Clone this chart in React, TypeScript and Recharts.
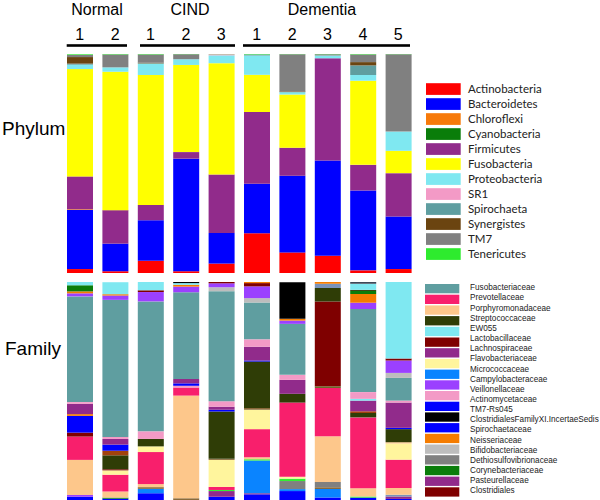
import React from 'react';
import { BarChart, Bar, XAxis, YAxis, Cell } from 'recharts';

// ---------- samples ----------
const SAMPLE_IDS = ['N1', 'N2', 'C1', 'C2', 'C3', 'D1', 'D2', 'D3', 'D4', 'D5'];
const SAMPLE_LABELS = ['1', '2', '1', '2', '3', '1', '2', '3', '4', '5'];
const GROUP_NAMES = ['Normal', 'CIND', 'Dementia'];

// ---------- phylum (% per sample, stacked bottom -> top) ----------
const PHYLA = ['Actinobacteria', 'Bacteroidetes', 'Chloroflexi', 'Cyanobacteria', 'Firmicutes', 'Fusobacteria', 'Proteobacteria', 'SR1', 'Spirochaeta', 'Synergistes', 'TM7', 'Tenericutes'];
const actinobacteria = [1.8, 0.8, 5.6, 0.8, 4.3, 18.2, 9.4, 7.9, 1.2, 1.8];
const bacteroidetes = [27, 12.6, 18.5, 51.4, 14, 22.6, 35, 43.5, 36.5, 24];
const chloroflexi = [0.3, 0, 0, 0, 0, 0, 0, 0, 0, 0];
const cyanobacteria = [0, 0, 0, 0, 0, 0, 0, 0, 0, 0];
const firmicutes = [15, 15.3, 7, 3, 26.7, 32.7, 12.8, 46.7, 11.7, 19.8];
const fusobacteria = [49, 63.2, 59.3, 39.8, 50.8, 17, 24.3, 0, 38.4, 10.2];
const proteobacteria = [2, 2, 5.3, 2.6, 3.6, 8.8, 1.1, 1.2, 2.6, 8.8];
const sr1 = [0, 0, 0, 0, 0.5, 0, 0, 0, 0, 0];
const spirochaeta = [0.5, 0, 0, 0, 0, 0.5, 0, 0, 4.4, 0];
const synergistes = [3, 0, 0.3, 0, 0, 0, 0.3, 0, 1.5, 0];
const tm7 = [1, 5.9, 3.8, 2.3, 0, 0, 17, 0.6, 3.5, 35.3];
const tenericutes = [0.3, 0.2, 0.2, 0.1, 0.1, 0.2, 0.1, 0.1, 0.2, 0.1];
const PHYLUM_VALUES = [actinobacteria, bacteroidetes, chloroflexi, cyanobacteria, firmicutes, fusobacteria, proteobacteria, sr1, spirochaeta, synergistes, tm7, tenericutes];
const PHYLUM_COLORS = ['#FF0000', '#0000FF', '#F77A0A', '#0A7D0A', '#912B8B', '#FFFF00', '#7FE8F1', '#F39AC6', '#5F9EA0', '#6B4410', '#808080', '#2EEB2E'];

// ---------- family (segments per sample, bottom -> top, %) ----------
const FAMILIES = ['Fusobacteriaceae', 'Prevotellaceae', 'Porphyromonadaceae', 'Streptococcaceae', 'EW055', 'Lactobacillaceae', 'Lachnospiraceae', 'Flavobacteriaceae', 'Micrococcaceae', 'Campylobacteraceae', 'Veillonellaceae', 'Actinomycetaceae', 'TM7-Rs045', 'ClostridialesFamilyXI.IncertaeSedis', 'Spirochaetaceae', 'Neisseriaceae', 'Bifidobacteriaceae', 'Dethiosulfovibrionaceae', 'Corynebacteriaceae', 'Pasteurellaceae', 'Clostridiales'];
const FAMILY_COLORS: Record<string, string> = {
  Fusobacteriaceae: '#5F9EA0',
  Prevotellaceae: '#F81F6C',
  Porphyromonadaceae: '#FDC78B',
  Streptococcaceae: '#2F3D06',
  EW055: '#7FE8F1',
  Lactobacillaceae: '#7F0000',
  Lachnospiraceae: '#912B8B',
  Flavobacteriaceae: '#FFF59D',
  Micrococcaceae: '#FFF59D',
  Campylobacteraceae: '#0A84FF',
  Veillonellaceae: '#9B40FF',
  Actinomycetaceae: '#F39AC6',
  'TM7-Rs045': '#0000FF',
  'ClostridialesFamilyXI.IncertaeSedis': '#000000',
  Spirochaetaceae: '#0000FF',
  Neisseriaceae: '#F57C00',
  Bifidobacteriaceae: '#BDBDBD',
  Dethiosulfovibrionaceae: '#808080',
  Corynebacteriaceae: '#0A7D0A',
  Pasteurellaceae: '#912B8B',
  Clostridiales: '#7F0000',
  OtherRust: '#A3420C',
  OtherTan: '#8A6A3A',
  OtherLime: '#33EE33',
  OtherSteel: '#7A93BA',
  OtherSlate: '#3E4858',
  OtherOlive: '#6B6B2A',
};
// legend swatches as drawn (one fewer swatch than labels in the source figure)
const FAMILY_SWATCH_NAMES = FAMILIES.filter((f) => f !== 'Micrococcaceae');

type Seg = [string, number];
const N1_FAM: Seg[] = [['TM7-Rs045', 1.5], ['Veillonellaceae', 0.8], ['Porphyromonadaceae', 16.1], ['Prevotellaceae', 10.7], ['Clostridiales', 1.8], ['Spirochaetaceae', 7.7], ['Neisseriaceae', 0.8], ['Lachnospiraceae', 4.7], ['Actinomycetaceae', 0.8], ['Fusobacteriaceae', 48.5], ['Veillonellaceae', 1.4], ['Neisseriaceae', 0.9], ['Corynebacteriaceae', 2.8], ['EW055', 1.5]];
const N2_FAM: Seg[] = [['TM7-Rs045', 0.6], ['Corynebacteriaceae', 0.5], ['Porphyromonadaceae', 2.8], ['Prevotellaceae', 7.7], ['Flavobacteriaceae', 2.0], ['Clostridiales', 0.5], ['Streptococcaceae', 6.4], ['OtherRust', 2.1], ['Spirochaetaceae', 2.8], ['Lachnospiraceae', 2.6], ['Actinomycetaceae', 0.9], ['Fusobacteriaceae', 62.9], ['Veillonellaceae', 2.0], ['Neisseriaceae', 0.6], ['EW055', 5.5]];
const C1_FAM: Seg[] = [['TM7-Rs045', 3.1], ['Campylobacteraceae', 2.0], ['OtherTan', 0.8], ['Porphyromonadaceae', 1.4], ['Prevotellaceae', 14.7], ['Flavobacteriaceae', 2.6], ['Streptococcaceae', 3.4], ['Actinomycetaceae', 3.5], ['Fusobacteriaceae', 59.6], ['Veillonellaceae', 4.3], ['Clostridiales', 0.8], ['EW055', 3.8]];
const C2_FAM: Seg[] = [['OtherTan', 0.8], ['Porphyromonadaceae', 47.1], ['Prevotellaceae', 3.7], ['Actinomycetaceae', 0.8], ['Spirochaetaceae', 1.1], ['Lachnospiraceae', 2.0], ['Fusobacteriaceae', 39.8], ['Veillonellaceae', 2.6], ['Neisseriaceae', 0.8], ['EW055', 0.8], ['ClostridialesFamilyXI.IncertaeSedis', 0.5]];
const C3_FAM: Seg[] = [['TM7-Rs045', 1.5], ['Pasteurellaceae', 2.6], ['OtherLime', 0.5], ['Prevotellaceae', 1.4], ['Flavobacteriaceae', 12.4], ['OtherTan', 0.5], ['Streptococcaceae', 21.7], ['Spirochaetaceae', 0.8], ['Lachnospiraceae', 1.4], ['Actinomycetaceae', 2.5], ['Fusobacteriaceae', 50.5], ['Bifidobacteriaceae', 1.8], ['Veillonellaceae', 1.8], ['Clostridiales', 0.6]];
const D1_FAM: Seg[] = [['TM7-Rs045', 2.6], ['Pasteurellaceae', 0.5], ['Campylobacteraceae', 15.0], ['OtherLime', 0.6], ['Porphyromonadaceae', 0.9], ['Prevotellaceae', 12.9], ['Flavobacteriaceae', 8.9], ['OtherTan', 0.8], ['Streptococcaceae', 21.3], ['Spirochaetaceae', 0.5], ['Lachnospiraceae', 6.3], ['Actinomycetaceae', 3.4], ['Fusobacteriaceae', 16.9], ['Bifidobacteriaceae', 2.0], ['Veillonellaceae', 5.4], ['Clostridiales', 1.5], ['Neisseriaceae', 0.5]];
const D2_FAM: Seg[] = [['TM7-Rs045', 4.1], ['Campylobacteraceae', 0.9], ['Dethiosulfovibrionaceae', 3.7], ['OtherLime', 1.1], ['Flavobacteriaceae', 0.9], ['Prevotellaceae', 34.0], ['Streptococcaceae', 4.0], ['Lachnospiraceae', 6.4], ['Actinomycetaceae', 2.3], ['Fusobacteriaceae', 23.4], ['Veillonellaceae', 1.5], ['Neisseriaceae', 0.8], ['ClostridialesFamilyXI.IncertaeSedis', 16.8]];
const D3_FAM: Seg[] = [['TM7-Rs045', 1.1], ['Campylobacteraceae', 4.0], ['OtherTan', 0.8], ['Dethiosulfovibrionaceae', 2.3], ['Porphyromonadaceae', 21.0], ['Prevotellaceae', 22.2], ['OtherOlive', 0.8], ['Lactobacillaceae', 38.9], ['Streptococcaceae', 6.1], ['OtherSteel', 2.0], ['Neisseriaceae', 0.8]];
const D4_FAM: Seg[] = [['TM7-Rs045', 1.1], ['OtherLime', 0.5], ['Porphyromonadaceae', 3.8], ['Prevotellaceae', 32.5], ['Streptococcaceae', 2.0], ['OtherRust', 0.8], ['Lachnospiraceae', 4.9], ['EW055', 0.8], ['Actinomycetaceae', 3.1], ['Fusobacteriaceae', 38.1], ['Veillonellaceae', 2.9], ['Neisseriaceae', 4.0], ['Corynebacteriaceae', 1.4], ['Streptococcaceae', 0.5], ['EW055', 2.8], ['OtherSlate', 0.8]];
const D5_FAM: Seg[] = [['TM7-Rs045', 0.5], ['Pasteurellaceae', 1.1], ['OtherSteel', 0.8], ['Porphyromonadaceae', 3.1], ['Prevotellaceae', 13.0], ['Flavobacteriaceae', 7.4], ['Porphyromonadaceae', 0.6], ['Streptococcaceae', 6.0], ['Spirochaetaceae', 0.6], ['Lachnospiraceae', 11.6], ['Actinomycetaceae', 0.9], ['Fusobacteriaceae', 10.4], ['Bifidobacteriaceae', 2.3], ['Veillonellaceae', 5.7], ['Clostridiales', 0.9], ['EW055', 35.2]];
const FAMILY_SEGMENTS = [N1_FAM, N2_FAM, C1_FAM, C2_FAM, C3_FAM, D1_FAM, D2_FAM, D3_FAM, D4_FAM, D5_FAM];

// ---------- derived tables ----------
const phylumRows = SAMPLE_IDS.map((id, i) => {
  const row: Record<string, any> = { id };
  PHYLA.forEach((p, k) => { row[p] = PHYLUM_VALUES[k][i]; });
  return row;
});
const MAX_SEGS = Math.max(...FAMILY_SEGMENTS.map((s) => s.length));
const familyRows = SAMPLE_IDS.map((id, i) => {
  const row: Record<string, any> = { id };
  FAMILY_SEGMENTS[i].forEach(([, v], k) => { row['s' + k] = v; });
  return row;
});

const SANS = '"Liberation Sans", Arial, Helvetica, sans-serif';

function SampleTick(props: any) {
  const { x, y, payload } = props;
  const idx = SAMPLE_IDS.indexOf(payload.value);
  return (
    <text x={x} y={y - 14} textAnchor="middle" fontSize={16} fontFamily={SANS} fill="#000">
      {SAMPLE_LABELS[idx]}
    </text>
  );
}

export default function App() {
  return (
    <div style={{ position: 'absolute', left: 0, top: 0, width: 600, height: 500, background: '#fff', overflow: 'hidden' }}>
      <svg width={600} height={500} style={{ position: 'absolute', left: 0, top: 0 }}>
        {/* group headers */}
        <text x={97} y={15} textAnchor="middle" fontSize={16} fontFamily={SANS}>{GROUP_NAMES[0]}</text>
        <text x={190} y={15} textAnchor="middle" fontSize={16} fontFamily={SANS}>{GROUP_NAMES[1]}</text>
        <text x={322} y={15} textAnchor="middle" fontSize={16} fontFamily={SANS}>{GROUP_NAMES[2]}</text>
        <rect x={66.7} y={44.2} width={60.3} height={2.6} fill="#000" />
        <rect x={140} y={44.2} width={95} height={2.6} fill="#000" />
        <rect x={243} y={44.2} width={167} height={2.6} fill="#000" />
        {/* row titles */}
        <text x={2} y={135} fontSize={19} fontFamily={SANS}>Phylum</text>
        <text x={5} y={355} fontSize={19} fontFamily={SANS}>Family</text>
        {/* phylum legend */}
        {PHYLA.map((p, i) => (
          <g key={p}>
            <rect x={426} y={83.2 + 15 * i} width={34.7} height={11.7} fill={PHYLUM_COLORS[i]} />
            <text x={468} y={93 + 15 * i} fontSize={11.5} fontFamily="Lato, 'Open Sans', sans-serif" fill="#222">{p}</text>
          </g>
        ))}
        {/* family legend */}
        {FAMILY_SWATCH_NAMES.map((f, j) => (
          <rect key={f} x={425} y={284 + 10.7 * j} width={34.3} height={9.3} fill={FAMILY_COLORS[f]} />
        ))}
        {FAMILIES.map((f, i) => (
          <text key={f} x={470} y={290.3 + 10.15 * i} fontSize={8.2} fontFamily={SANS} fill="#222">{f}</text>
        ))}
      </svg>

      <div style={{ position: 'absolute', left: 62, top: 20 }}>
        <BarChart width={354} height={253} data={phylumRows} margin={{ top: 0, right: 0, bottom: 0, left: 0 }} barSize={26}>
          <XAxis dataKey="id" orientation="top" height={34} axisLine={false} tickLine={false} tickSize={0} tickMargin={0} interval={0} tick={<SampleTick />} />
          <YAxis hide type="number" domain={[0, 100]} allowDataOverflow />
          {PHYLA.map((p, i) => (
            <Bar key={p} dataKey={p} stackId="p" fill={PHYLUM_COLORS[i]} isAnimationActive={false} />
          ))}
        </BarChart>
      </div>

      <div style={{ position: 'absolute', left: 62, top: 282 }}>
        <BarChart width={354} height={218} data={familyRows} margin={{ top: 0, right: 0, bottom: 0, left: 0 }} barSize={26}>
          <XAxis dataKey="id" hide />
          <YAxis hide type="number" domain={[0, 100]} allowDataOverflow />
          {Array.from({ length: MAX_SEGS }, (_, k) => (
            <Bar key={'s' + k} dataKey={'s' + k} stackId="f" isAnimationActive={false}>
              {FAMILY_SEGMENTS.map((segs, i) => (
                <Cell key={SAMPLE_IDS[i]} fill={segs[k] ? FAMILY_COLORS[segs[k][0]] : 'transparent'} />
              ))}
            </Bar>
          ))}
        </BarChart>
      </div>
    </div>
  );
}
